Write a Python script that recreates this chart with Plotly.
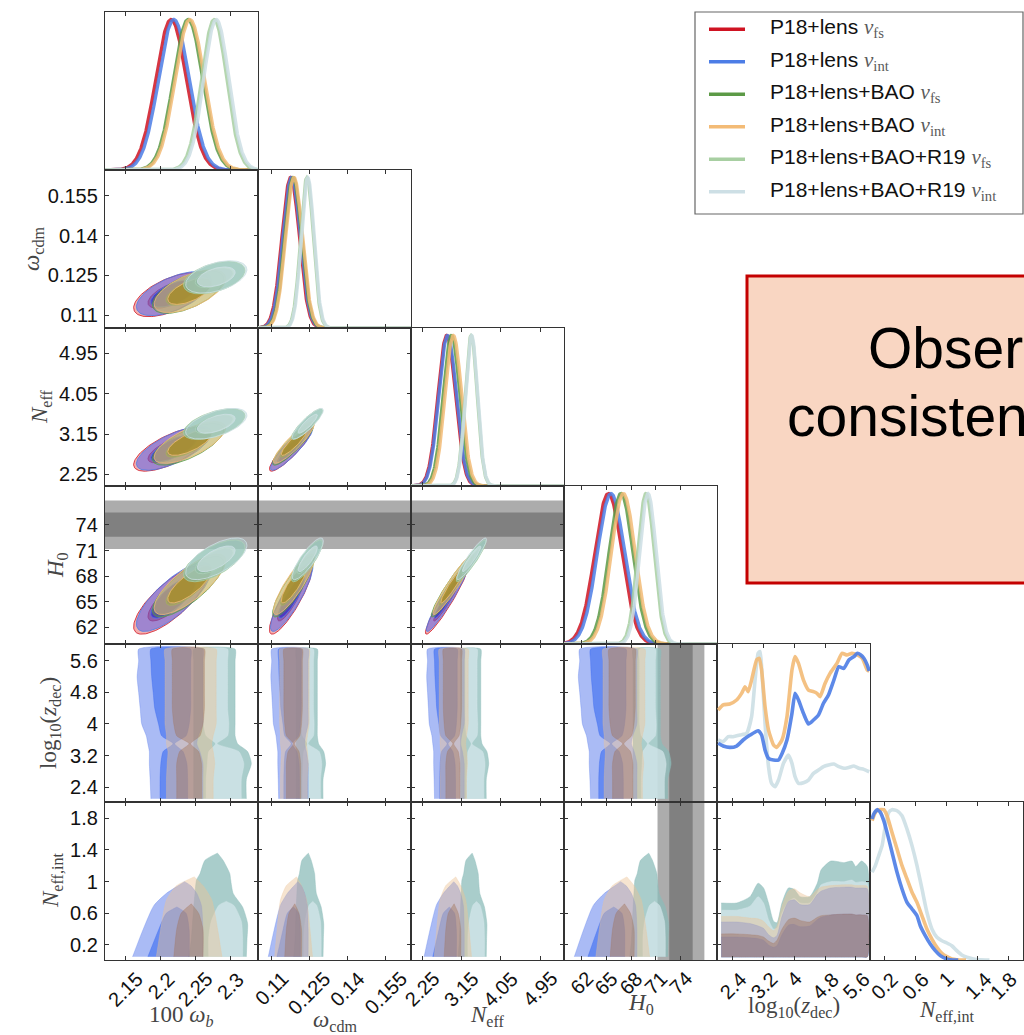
import numpy as np
import plotly.graph_objects as go

W, H = 1024, 1035
SANS = "Liberation Sans, Arial, sans-serif"
SERIF = "Liberation Serif, Times New Roman, serif"
FRAME = "#333333"

# ---------------- series ----------------
series_labels = ["P18+lens", "P18+lens", "P18+lens+BAO", "P18+lens+BAO",
                 "P18+lens+BAO+R19", "P18+lens+BAO+R19"]
series_nu = ["fs", "int", "fs", "int", "fs", "int"]
line_colors = ["#cf1322", "#4c7de6", "#5c9a46", "#f3bb76", "#a8cfa2", "#cddfe5"]

# marginal means / standard deviations of the cosmological parameters
wb_mean = [2.215, 2.219, 2.2395, 2.242, 2.277, 2.280]
wb_sig = [0.022, 0.022, 0.021, 0.021, 0.018, 0.018]
wcdm_mean = [0.1177, 0.1181, 0.1187, 0.1190, 0.1241, 0.1244]
wcdm_sig = [0.0034, 0.0034, 0.0033, 0.0033, 0.0025, 0.0025]
neff_mean = [2.81, 2.83, 2.92, 2.96, 3.37, 3.38]
neff_sig = [0.20, 0.20, 0.19, 0.19, 0.14, 0.14]
h0_mean = [65.23, 65.55, 66.76, 67.04, 69.79, 70.03]
h0_sig = [1.65, 1.65, 1.45, 1.45, 1.0, 1.0]

# pairwise correlations (wb-wcdm, wb-neff, wb-h0, wcdm-neff, wcdm-h0, neff-h0)
corr_pairs = [(0, 1), (0, 2), (0, 3), (1, 2), (1, 3), (2, 3)]
corr_base = [0.60, 0.70, 0.78, 0.90, 0.87, 0.95]
corr_r19 = [0.45, 0.55, 0.65, 0.88, 0.85, 0.93]

# R19 prior on H0
h0_r19, h0_r19_sig = 74.03, 1.42

# 1D posterior of log10(z_dec) (interacting runs)
lz_blue_x = [2.02, 2.15, 2.32, 2.50, 2.67, 2.85, 3.06, 3.15, 3.24, 3.33, 3.46, 3.59, 3.68, 3.81, 3.94, 4.02,
             4.11, 4.24, 4.37, 4.50, 4.63, 4.76, 4.89, 5.03, 5.16, 5.29, 5.42, 5.55, 5.64, 5.73, 5.81, 5.90, 5.95]
lz_blue_y = [0.39, 0.372, 0.363, 0.372, 0.412, 0.445, 0.474, 0.445, 0.345, 0.29, 0.279, 0.279, 0.321, 0.412,
             0.589, 0.722, 0.678, 0.589, 0.518, 0.545, 0.578, 0.656, 0.711, 0.81, 0.899, 0.888, 0.944, 0.966,
             0.988, 0.977, 0.955, 0.91, 0.87]
lz_or_x = [2.02, 2.15, 2.32, 2.50, 2.63, 2.72, 2.80, 2.89, 3.02, 3.09, 3.15, 3.24, 3.33, 3.46, 3.54, 3.68, 3.81,
           3.94, 4.02, 4.11, 4.24, 4.37, 4.50, 4.59, 4.67, 4.80, 4.93, 5.11, 5.24, 5.37, 5.50, 5.64, 5.77, 5.90, 5.95]
lz_or_y = [0.611, 0.645, 0.651, 0.678, 0.722, 0.766, 0.733, 0.81, 0.944, 0.955, 0.877, 0.633, 0.478, 0.379,
           0.363, 0.412, 0.567, 0.877, 0.966, 0.921, 0.81, 0.744, 0.733, 0.722, 0.70, 0.788, 0.855, 0.921,
           0.988, 0.977, 0.988, 0.977, 0.955, 0.877, 0.87]
lz_r19_x = [2.02, 2.15, 2.28, 2.41, 2.59, 2.76, 2.89, 2.98, 3.06, 3.11, 3.15, 3.24, 3.33, 3.41, 3.50, 3.59, 3.72,
            3.85, 3.94, 4.02, 4.11, 4.24, 4.37, 4.50, 4.63, 4.76, 4.89, 5.03, 5.16, 5.29, 5.42, 5.55, 5.68, 5.81, 5.95]
lz_r19_y = [0.412, 0.401, 0.434, 0.434, 0.445, 0.456, 0.567, 0.81, 0.988, 1.0, 0.899, 0.522, 0.235, 0.124,
            0.102, 0.146, 0.257, 0.312, 0.257, 0.168, 0.124, 0.128, 0.146, 0.19, 0.212, 0.235, 0.246, 0.252,
            0.235, 0.224, 0.23, 0.239, 0.224, 0.217, 0.201]

# 1D posterior of N_eff,int
ni_blue_x = [0.047, 0.068, 0.111, 0.153, 0.196, 0.238, 0.302, 0.366, 0.43, 0.494, 0.558, 0.622, 0.664, 0.728,
             0.792, 0.856, 0.92, 0.983, 1.047, 1.15]
ni_blue_y = [0.937, 0.97, 0.999, 0.981, 0.926, 0.848, 0.716, 0.583, 0.472, 0.383, 0.339, 0.294, 0.228, 0.162,
             0.106, 0.062, 0.029, 0.011, 0.002, 0.0]
ni_or_x = [0.047, 0.089, 0.132, 0.196, 0.238, 0.302, 0.366, 0.43, 0.494, 0.558, 0.622, 0.686, 0.749, 0.813,
           0.877, 0.941, 1.005, 1.068, 1.132, 1.25]
ni_or_y = [0.926, 0.981, 0.999, 0.999, 0.959, 0.848, 0.738, 0.627, 0.539, 0.45, 0.383, 0.294, 0.206, 0.139,
           0.084, 0.044, 0.022, 0.007, 0.002, 0.0]
ni_r19_x = [0.047, 0.089, 0.132, 0.175, 0.217, 0.26, 0.302, 0.366, 0.43, 0.494, 0.558, 0.622, 0.686, 0.749,
            0.813, 0.877, 0.941, 1.005, 1.068, 1.132, 1.196, 1.26, 1.345, 1.43, 1.55]
ni_r19_y = [0.583, 0.627, 0.694, 0.76, 0.893, 0.981, 0.999, 0.992, 0.959, 0.87, 0.76, 0.627, 0.472, 0.317,
            0.206, 0.151, 0.128, 0.113, 0.095, 0.062, 0.033, 0.018, 0.007, 0.002, 0.0]

# log10(z_dec) vs cosmological parameters: band edges in units of sigma about the mean
band_z = [2.1, 2.6, 3.0, 3.3, 3.5, 3.7, 4.0, 4.4, 4.8, 5.2, 5.6, 5.9]
band_L95 = {1: [-1.5, -1.55, -1.6, -1.6, -1.7, -1.8, -2.1, -2.2, -2.3, -2.4, -2.3, -2.3],
            3: [-1.6, -1.6, -1.55, -1.5, -1.6, -1.6, -1.7, -1.7, -1.7, -1.7, -1.7, -1.7],
            5: [-1.8, -1.8, -1.8, -1.8, -1.8, -1.8, -1.8, -1.8, -1.8, -1.8, -1.8, -1.8]}
band_R95 = {1: [1.9, 1.9, 1.9, 1.7, 1.5, 1.6, 1.9, 1.9, 1.9, 1.9, 1.9, 1.9],
            3: [1.6, 1.6, 1.7, 1.6, 1.5, 1.6, 1.8, 1.8, 1.8, 1.8, 1.8, 1.8],
            5: [2.4, 2.4, 2.8, 2.5, 1.7, 1.5, 1.5, 1.5, 1.5, 1.5, 1.5, 1.5]}
band_L68 = {1: [-0.9, -0.9, -0.85, -0.7, -0.05, -0.8, -1.0, -1.25, -1.35, -1.45, -1.5, -1.5],
            3: [-0.9, -0.9, -0.9, -0.7, -0.05, -0.9, -1.1, -1.2, -1.2, -1.2, -1.2, -1.2],
            5: [-0.8, -0.8, -0.7, -0.6, -0.05, -0.8, -1.0, -1.0, -1.0, -1.0, -1.0, -1.0]}
band_R68 = {1: [0.9, 0.9, 0.85, 0.6, 0.05, 0.8, 1.0, 1.1, 1.1, 1.1, 1.1, 1.1],
            3: [0.8, 0.8, 0.8, 0.6, 0.05, 0.7, 0.9, 1.0, 1.0, 1.0, 1.0, 1.0],
            5: [2.0, 2.0, 2.2, 1.8, 0.05, 0.9, 1.0, 0.9, 0.9, 0.9, 0.9, 0.9]}

# N_eff,int vs cosmological parameters: contour edges (sigma units) at N_eff,int levels
dome95 = {1: ([0.05, 0.4, 0.7, 0.85, 0.95, 1.0], [-2.7, -2.0, -1.3, -0.5, 0.3, 0.7], [1.9, 1.9, 1.8, 1.5, 1.1, 0.7]),
          3: ([0.05, 0.4, 0.77, 0.95, 1.06], [-2.3, -2.0, -1.6, -0.9, 0.3], [2.2, 1.9, 1.5, 0.9, 0.3]),
          5: ([0.05, 0.26, 0.47, 0.68, 0.85, 1.02, 1.1, 1.27, 1.36],
              [-2.2, -2.0, -1.9, -1.8, -1.7, -1.58, -1.3, -0.9, 0.1],
              [2.4, 2.45, 2.5, 2.1, 1.35, 1.15, 1.08, 0.54, 0.1])}
dome68 = {1: ([0.05, 0.39, 0.6, 0.68], [-1.7, -1.0, -0.5, 0.2], [1.0, 1.0, 0.8, 0.2]),
          3: ([0.05, 0.4, 0.6, 0.72], [-1.1, -0.9, -0.6, 0.1], [0.9, 0.9, 0.6, 0.1]),
          5: ([0.05, 0.3, 0.5, 0.7, 0.75], [-0.6, -0.6, -0.4, 0.2, 0.8], [2.1, 2.1, 2.0, 1.4, 0.8])}

# N_eff,int vs log10(z_dec): upper contour edges
zg = [2.1, 2.5, 2.85, 3.06, 3.2, 3.33, 3.46, 3.55, 3.68, 3.85, 4.0, 4.15, 4.4, 4.6, 4.7, 4.95, 5.3, 5.5, 5.6, 5.75, 5.9]
top95 = {1: [0.49, 0.49, 0.47, 0.44, 0.41, 0.33, 0.29, 0.32, 0.56, 0.75, 0.77, 0.71, 0.71, 0.84, 0.88, 0.92, 0.93, 0.93, 0.92, 0.92, 0.91],
         3: [0.56, 0.56, 0.54, 0.53, 0.50, 0.43, 0.38, 0.44, 0.69, 0.88, 0.91, 0.86, 0.81, 0.90, 0.93, 0.95, 0.96, 0.96, 0.95, 0.95, 0.94],
         5: [0.73, 0.73, 0.81, 0.98, 0.92, 0.73, 0.50, 0.48, 0.73, 0.92, 0.90, 0.81, 0.81, 0.98, 1.15, 1.26, 1.24, 1.26, 1.19, 1.26, 1.19]}
top68 = {1: [0.30, 0.30, 0.29, 0.28, 0.26, 0.20, 0.17, 0.19, 0.33, 0.45, 0.46, 0.43, 0.44, 0.52, 0.55, 0.58, 0.59, 0.59, 0.58, 0.58, 0.57],
         3: [0.34, 0.34, 0.33, 0.32, 0.30, 0.25, 0.22, 0.26, 0.40, 0.52, 0.54, 0.51, 0.49, 0.55, 0.57, 0.58, 0.59, 0.59, 0.58, 0.58, 0.57],
         5: [0.64, 0.64, 0.69, 0.81, 0.73, 0.52, 0.40, 0.41, 0.60, 0.75, 0.79, 0.73, 0.73, 0.86, 0.96, 1.00, 1.00, 1.02, 0.99, 1.00, 0.98]}

# axes / ticks
tick_vals = [[2.15, 2.2, 2.25, 2.3], [0.11, 0.125, 0.14, 0.155], [2.25, 3.15, 4.05, 4.95],
             [62, 65, 68, 71, 74], [2.4, 3.2, 4, 4.8, 5.6], [0.2, 0.6, 1, 1.4, 1.8]]
tick_text = [["2.15", "2.2", "2.25", "2.3"], ["0.11", "0.125", "0.14", "0.155"], ["2.25", "3.15", "4.05", "4.95"],
             ["62", "65", "68", "71", "74"], ["2.4", "3.2", "4", "4.8", "5.6"], ["0.2", "0.6", "1", "1.4", "1.8"]]
x_ranges = [[2.12, 2.34], [0.1049, 0.1649], [1.99, 5.5], [59.85, 78.4], [1.99, 5.97], [0.02, 1.98]]
y_ranges = [None, [0.1051, 0.1648], [1.99, 5.515], [60.04, 78.57], [2.02, 6.03], [0.01, 2.006]]
axis_titles = ["100 <i>ω</i><sub><i>b</i></sub>", "<i>ω</i><sub>cdm</sub>", "<i>N</i><sub>eff</sub>",
               "<i>H</i><sub>0</sub>", "log<sub>10</sub>(<i>z</i><sub>dec</sub>)", "<i>N</i><sub>eff,int</sub>"]

# ---------------- layout geometry (pixels) ----------------
col_edges = [105, 258, 411, 564, 717, 870, 1023]
row_edges = [12, 170, 328, 486, 644, 802, 960]

fig = go.Figure()
layout = dict(width=W, height=H, margin=dict(l=0, r=0, t=0, b=0), paper_bgcolor="white",
              plot_bgcolor="white", showlegend=False, font=dict(family=SANS, color="#111"))
axis_id = {}
n = 0
for i in range(6):
    for j in range(i + 1):
        n += 1
        axis_id[(i, j)] = n
        s = "" if n == 1 else str(n)
        xa = dict(domain=[col_edges[j] / W, col_edges[j + 1] / W], range=x_ranges[j], anchor="y" + s,
                  showgrid=False, zeroline=False, showline=True, mirror="ticks", linecolor=FRAME,
                  linewidth=1.3, ticks="inside", ticklen=4, tickwidth=1, tickcolor=FRAME,
                  tickvals=tick_vals[j], showticklabels=False, fixedrange=True)
        ya = dict(domain=[1 - row_edges[i + 1] / H, 1 - row_edges[i] / H], anchor="x" + s,
                  showgrid=False, zeroline=False, showline=True, linecolor=FRAME, linewidth=1.3,
                  fixedrange=True)
        if i == j:
            ya.update(range=[0, 1.05], ticks="", mirror=True, showticklabels=False)
        else:
            ya.update(range=y_ranges[i], mirror="ticks", ticks="inside", ticklen=4, tickwidth=1,
                      tickcolor=FRAME, tickvals=tick_vals[i], ticktext=tick_text[i],
                      showticklabels=(j == 0), tickfont=dict(size=20, family=SANS, color="#111"),
                      ticklabelstandoff=2)
        layout["xaxis" + s] = xa
        layout["yaxis" + s] = ya


def refs(i, j):
    k = axis_id[(i, j)]
    s = "" if k == 1 else str(k)
    return dict(xaxis="x" + s, yaxis="y" + s)


means = [wb_mean, wcdm_mean, neff_mean, h0_mean]
sigs = [wb_sig, wcdm_sig, neff_sig, h0_sig]

# ---------------- 1D marginals (cosmological parameters) ----------------
for p in range(4):
    xg = np.linspace(x_ranges[p][0], x_ranges[p][1], 400)
    for k in range(6):
        yg = np.exp(-0.5 * ((xg - means[p][k]) / sigs[p][k]) ** 2)
        fig.add_trace(go.Scatter(x=xg, y=yg, mode="lines", opacity=0.85,
                                 line=dict(color=line_colors[k], width=3.4), hoverinfo="skip", **refs(p, p)))

# ---------------- 2D Gaussian contours ----------------
fill95 = ["rgba(225,50,50,0.40)", "rgba(90,100,235,0.55)", "rgba(100,155,75,0.40)",
          "rgba(240,195,120,0.50)", "rgba(130,185,160,0.70)", "rgba(175,210,210,0.45)"]
fill68 = ["rgba(185,20,35,0.55)", "rgba(45,40,205,0.65)", "rgba(80,125,30,0.55)",
          "rgba(170,135,25,0.60)", "rgba(115,165,125,0.55)", "rgba(215,232,235,0.55)"]
k68, k95 = np.sqrt(-2 * np.log(0.32)), np.sqrt(-2 * np.log(0.05))
t = np.linspace(0, 2 * np.pi, 120)
for pi_, (a, b) in enumerate(corr_pairs):
    for k in range(6):
        rho = (corr_r19 if k >= 4 else corr_base)[pi_]
        for kk, fc in ((k95, fill95[k]), (k68, fill68[k])):
            ex = means[a][k] + kk * sigs[a][k] * np.cos(t)
            ey = means[b][k] + kk * sigs[b][k] * (rho * np.cos(t) + np.sqrt(1 - rho ** 2) * np.sin(t))
            fig.add_trace(go.Scatter(x=ex, y=ey, mode="lines", fill="toself", fillcolor=fc,
                                     line=dict(color=line_colors[k], width=0.8), hoverinfo="skip",
                                     **refs(b, a)))

# ---------------- interacting-only panels ----------------
int_order = [5, 1, 3]
fill95_int = {1: "rgba(85,120,235,0.50)", 3: "rgba(235,195,150,0.45)", 5: "rgba(140,188,185,0.75)"}
fill68_int = {1: "rgba(55,105,240,0.60)", 3: "rgba(160,110,80,0.40)", 5: "rgba(215,232,236,0.70)"}
SPL = dict(shape="spline", smoothing=0.6, width=0.6)

for p in range(4):
    for k in int_order:
        mu, sg = means[p][k], sigs[p][k]
        for L, R, fc in ((band_L95[k], band_R95[k], fill95_int[k]), (band_L68[k], band_R68[k], fill68_int[k])):
            xs = [mu + v * sg for v in L] + [mu + v * sg for v in R[::-1]]
            ys = band_z + band_z[::-1]
            fig.add_trace(go.Scatter(x=xs, y=ys, mode="lines", fill="toself", fillcolor=fc,
                                     line=dict(color=fc, **SPL), hoverinfo="skip", **refs(4, p)))
        for dd, fc in ((dome95[k], fill95_int[k]), (dome68[k], fill68_int[k])):
            lv, L, R = dd
            xs = [mu + v * sg for v in L] + [mu + v * sg for v in R[::-1]]
            ys = lv + lv[::-1]
            fig.add_trace(go.Scatter(x=xs, y=ys, mode="lines", fill="toself", fillcolor=fc,
                                     line=dict(color=fc, **SPL), hoverinfo="skip", **refs(5, p)))

for k in int_order:
    for tp, fc in ((top95[k], fill95_int[k]), (top68[k], fill68_int[k])):
        xs = zg + zg[::-1]
        ys = tp + [0.05] * len(zg)
        fig.add_trace(go.Scatter(x=xs, y=ys, mode="lines", fill="toself", fillcolor=fc,
                                 line=dict(color=fc, **SPL), hoverinfo="skip", **refs(5, 4)))

for xs, ys, k in ((lz_r19_x, lz_r19_y, 5), (lz_or_x, lz_or_y, 3), (lz_blue_x, lz_blue_y, 1)):
    fig.add_trace(go.Scatter(x=xs, y=ys, mode="lines", opacity=0.9,
                             line=dict(color=line_colors[k], width=3.6, shape="spline", smoothing=0.5),
                             hoverinfo="skip", **refs(4, 4)))
for xs, ys, k in ((ni_r19_x, ni_r19_y, 5), (ni_or_x, ni_or_y, 3), (ni_blue_x, ni_blue_y, 1)):
    fig.add_trace(go.Scatter(x=xs, y=ys, mode="lines", opacity=0.9,
                             line=dict(color=line_colors[k], width=3.6, shape="spline", smoothing=0.5),
                             hoverinfo="skip", **refs(5, 5)))

# ---------------- R19 H0 bands ----------------
shapes = []
for nsig, col in ((2, "#acacac"), (1, "#808080")):
    lo, hi = h0_r19 - nsig * h0_r19_sig, h0_r19 + nsig * h0_r19_sig
    for j in range(3):
        k = axis_id[(3, j)]
        s = "" if k == 1 else str(k)
        shapes.append(dict(type="rect", xref="x%s domain" % s, yref="y" + s, x0=0, x1=1, y0=lo, y1=hi,
                           fillcolor=col, line=dict(width=0), layer="below"))
    for i in (4, 5):
        k = axis_id[(i, 3)]
        s = str(k)
        shapes.append(dict(type="rect", xref="x" + s, yref="y%s domain" % s, x0=lo, x1=hi, y0=0, y1=1,
                           fillcolor=col, line=dict(width=0), layer="below"))

annotations = []
# x tick labels along the bottom row (the rightmost one is nudged to stay inside the page)
for j in range(6):
    k = axis_id[(5, j)]
    for v, txt in zip(tick_vals[j], tick_text[j]):
        edge = (j == 5 and v == tick_vals[5][-1])
        annotations.append(dict(x=v, xref="x%d" % k, y=1 - 965 / H, yref="paper", text=txt, textangle=-45,
                                xanchor="center", yanchor="top", showarrow=False, xshift=-6 if edge else 0,
                                font=dict(size=20, family=SANS, color="#111")))

# axis titles
xt_pos = [(181.5, 1016), (334.5, 1021), (487.5, 1016), (640.5, 1004), (793.5, 1007), (946.5, 1011)]
for j, (px, py) in enumerate(xt_pos):
    annotations.append(dict(x=px / W, y=1 - py / H, xref="paper", yref="paper", text=axis_titles[j],
                            showarrow=False, xanchor="center", yanchor="middle",
                            font=dict(size=23, family=SERIF, color="#454545")))
yt_pos = [None, (33, 249), (41, 407), (57, 565), (50, 723), (52, 881)]
for i in range(1, 6):
    px, py = yt_pos[i]
    annotations.append(dict(x=px / W, y=1 - py / H, xref="paper", yref="paper", text=axis_titles[i],
                            textangle=-90, showarrow=False, xanchor="center", yanchor="middle",
                            font=dict(size=23, family=SERIF, color="#454545")))

# legend
shapes.append(dict(type="rect", xref="paper", yref="paper", x0=695 / W, x1=1023 / W, y0=1 - 214 / H,
                   y1=1 - 12 / H, fillcolor="white", line=dict(color="#666", width=1.2), layer="above"))
for k in range(6):
    yc = 29.3 + 32.5 * k
    shapes.append(dict(type="line", xref="paper", yref="paper", x0=709 / W, x1=745 / W, y0=1 - yc / H,
                       y1=1 - yc / H, line=dict(color=line_colors[k], width=3.5), layer="above"))
    lab = ('%s <span style="font-family:%s;color:#5a5a5a"><i>ν</i><sub>%s</sub></span>'
           % (series_labels[k], SERIF, series_nu[k]))
    annotations.append(dict(x=768 / W, y=1 - (yc - 1) / H, xref="paper", yref="paper", text=lab,
                            showarrow=False, xanchor="left", yanchor="middle",
                            font=dict(size=21, family=SANS, color="#111")))

# highlighted note box
shapes.append(dict(type="rect", xref="paper", yref="paper", x0=747 / W, x1=1.05, y0=1 - 583 / H,
                   y1=1 - 276 / H, fillcolor="#f9d6c2", line=dict(color="#c40000", width=3), layer="above"))
annotations.append(dict(x=866 / W, y=1 - 348 / H, xref="paper", yref="paper", text="Obser", showarrow=False,
                        xanchor="left", yanchor="middle", font=dict(size=57, family=SANS, color="#000")))
annotations.append(dict(x=785 / W, y=1 - 416 / H, xref="paper", yref="paper", text="consisten",
                        showarrow=False, xanchor="left", yanchor="middle",
                        font=dict(size=57, family=SANS, color="#000")))

layout["shapes"] = shapes
layout["annotations"] = annotations
fig.update_layout(**layout)
fig.write_html("out.html")
